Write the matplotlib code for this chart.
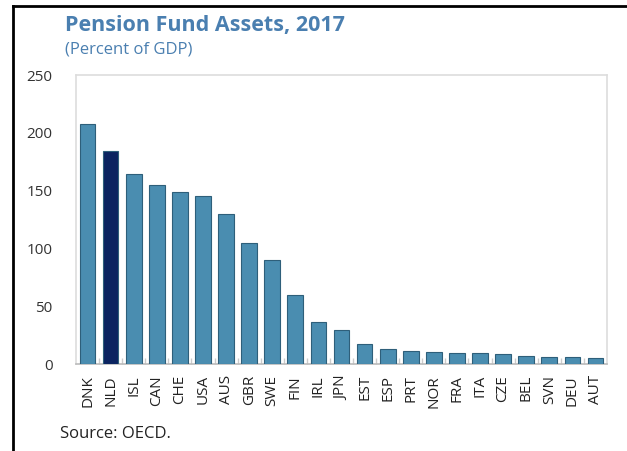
import matplotlib
matplotlib.use("Agg")
import matplotlib.pyplot as plt
from matplotlib.lines import Line2D

countries = ["DNK", "NLD", "ISL", "CAN", "CHE", "USA", "AUS", "GBR", "SWE", "FIN",
             "IRL", "JPN", "EST", "ESP", "PRT", "NOR", "FRA", "ITA", "CZE", "BEL",
             "SVN", "DEU", "AUT"]
values = [208, 184, 164, 155, 149, 145, 130, 105, 90, 60,
          36, 29, 17, 13, 11, 10, 9.5, 9.5, 8.4, 7.2,
          6.4, 6.3, 5.5]
highlight = "NLD"
yticks = [0, 50, 100, 150, 200, 250]

W, H = 627, 451
fig = plt.figure(figsize=(W / 100, H / 100), dpi=100)
plt.rcParams['font.family'] = ['Open Sans', 'DejaVu Sans']

ax = fig.add_axes([76 / W, 1 - 364 / H, (607 - 76) / W, (364 - 75) / H])

base_col = "#4a8db0"
hi_col = "#0b2360"
colors = [hi_col if c == highlight else base_col for c in countries]
x = list(range(len(countries)))
ax.bar(x, values, width=0.68, color=colors, edgecolor="#2e5f7a", linewidth=0.8, zorder=3)

ax.set_xlim(-0.5, len(countries) - 0.5)
ax.set_ylim(0, 250)
ax.set_yticks(yticks)
ax.set_yticklabels([str(v) for v in yticks], fontsize=11, color="#333333")
ax.tick_params(axis='y', length=0, pad=17)
ax.set_xticks(x)
ax.set_xticklabels(countries, rotation=90, fontsize=11, color="#222222")
ax.tick_params(axis='x', length=0, pad=8)
ax.set_xticks([i + 0.5 for i in x[:-1]], minor=True)
ax.tick_params(axis='x', which='minor', length=4, direction='in', color="#cccccc", width=1)

for s in ax.spines.values():
    s.set_color("#dddddd")
    s.set_linewidth(1.2)
ax.spines['bottom'].set_color("#bbbbbb")

fig.text(65 / W, 1 - 25 / H, "Pension Fund Assets, 2017", fontsize=15.5, fontweight='bold',
         color="#4a7fb0", va='center', ha='left')
fig.text(65 / W, 1 - 50 / H, "(Percent of GDP)", fontsize=12, color="#4a7fb0",
         va='center', ha='left')
fig.text(60 / W, 1 - 434 / H, "Source: OECD.", fontsize=12, color="#222222",
         va='center', ha='left')

# outer frame lines (top and left)
fig.add_artist(Line2D([13 / W, 1.0], [1 - 6 / H, 1 - 6 / H], color="black", linewidth=2,
                      transform=fig.transFigure))
fig.add_artist(Line2D([13 / W, 13 / W], [0, 1 - 6 / H], color="black", linewidth=2,
                      transform=fig.transFigure))

fig.savefig("out.png", dpi=100)
